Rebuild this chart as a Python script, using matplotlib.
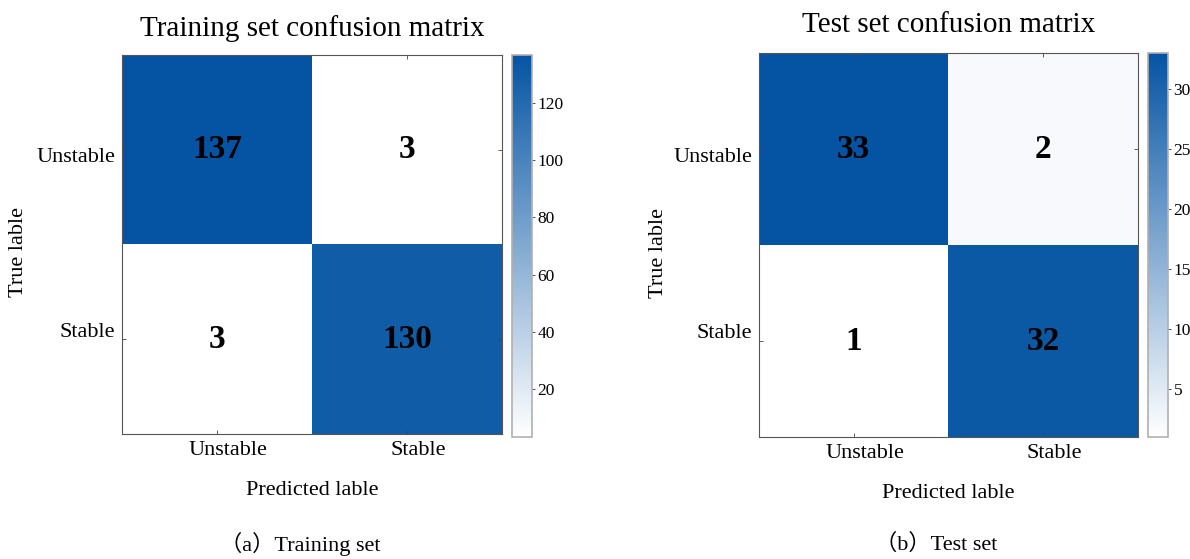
import numpy as np
import matplotlib
matplotlib.use('Agg')
import matplotlib.pyplot as plt
from matplotlib.colors import LinearSegmentedColormap

plt.rcParams['font.family'] = ['Liberation Serif', 'Noto Sans CJK SC']

# Data
classes = ['Unstable', 'Stable']
train_cm = np.array([[137, 3],
                     [3, 130]])
test_cm = np.array([[33, 2],
                    [1, 32]])
train_cbar_ticks = [20, 40, 60, 80, 100, 120]
test_cbar_ticks = [5, 10, 15, 20, 25, 30]

cmap = LinearSegmentedColormap.from_list('mblues', ['#ffffff', '#0554a3'])

W, H = 1190, 559
fig = plt.figure(figsize=(W / 100, H / 100), dpi=100)


def px_rect(x0, y0, x1, y1):
    return [x0 / W, 1 - y1 / H, (x1 - x0) / W, (y1 - y0) / H]


def draw_cm(ax, cax, cm, title, caption, cbar_ticks, ylab_x, title_pad):
    n = len(classes)
    im = ax.imshow(cm, cmap=cmap, vmin=cm.min(), vmax=cm.max(), aspect='auto')
    for i in range(cm.shape[0]):
        for j in range(cm.shape[1]):
            ax.text(j, i, str(cm[i, j]), ha='center', va='center',
                    fontsize=24, fontweight='bold', color='black')
    # tick marks at cell centres, labels placed slightly off-centre (as in the source)
    ax.set_xticks(range(n))
    ax.set_yticks(range(n))
    ax.set_xticklabels([])
    ax.set_yticklabels([])
    ax.set_xticks([k + 0.06 for k in range(n)], minor=True)
    ax.set_yticks([0.03, 0.95], minor=True)
    ax.set_xticklabels(classes, minor=True, fontsize=16)
    ax.set_yticklabels(classes, minor=True, fontsize=16)
    ax.tick_params(which='major', direction='in', length=3, width=0.6,
                   color='#444444', top=True, right=True)
    ax.tick_params(which='minor', length=0, pad=5)
    for s in ax.spines.values():
        s.set_color('#555555')
        s.set_linewidth(0.8)
    ax.set_title(title, fontsize=21, pad=title_pad)
    ax.set_xlabel('Predicted lable', fontsize=16, labelpad=15)
    ax.set_ylabel('True lable', fontsize=16)
    ax.yaxis.set_label_coords(ylab_x, 0.48)
    # caption below each panel, at a fixed figure height
    pos = ax.get_position()
    fig.text(pos.x0 + pos.width / 2 - 0.01, 1 - 544 / H, caption,
             ha='center', va='center', fontsize=16)

    cb = fig.colorbar(im, cax=cax, ticks=cbar_ticks)
    cb.outline.set_edgecolor('#b0b0b0')
    cb.outline.set_linewidth(1.2)
    cb.ax.tick_params(labelsize=12.5, length=2, width=0.6, color='#333333', pad=2)


ax1 = fig.add_axes(px_rect(122, 55, 502, 434))
cax1 = fig.add_axes(px_rect(512, 55, 532, 437))
ax2 = fig.add_axes(px_rect(759, 53, 1138, 437))
cax2 = fig.add_axes(px_rect(1148, 53, 1168, 437))

draw_cm(ax1, cax1, train_cm, 'Training set confusion matrix',
        '（a）Training set', train_cbar_ticks, -0.247, 14)
draw_cm(ax2, cax2, test_cm, 'Test set confusion matrix',
        '（b）Test set', test_cbar_ticks, -0.24, 15)

fig.savefig('out.png', dpi=100)
